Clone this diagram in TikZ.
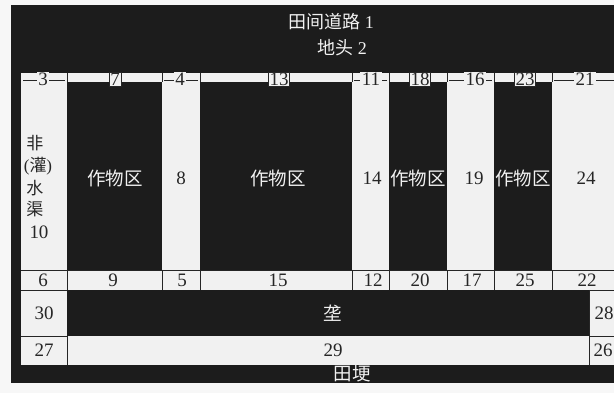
\documentclass[tikz,border=0pt]{standalone}
\usepackage{fontspec}
\setmainfont{Liberation Serif}
\newfontfamily\cjk{Noto Sans CJK SC}
\definecolor{dk}{HTML}{1C1C1C}
\definecolor{lt}{HTML}{F1F1F1}
\definecolor{pg}{HTML}{F7F7F7}
\definecolor{ink}{HTML}{262626}
\tikzset{
  num/.style={font=\fontsize{19}{19}\selectfont, text=ink, inner sep=0pt},
  wtxt/.style={font=\fontsize{18}{18}\selectfont, text=lt, inner sep=0pt},
  cnbig/.style={wtxt, font=\fontsize{18.5}{18.5}\selectfont},
  vtxt/.style={font=\fontsize{17}{17}\selectfont, text=ink, inner sep=0pt},
  boxlab/.style={num, draw=ink, line width=0.6pt, fill=lt, inner xsep=1.2pt, inner ysep=0.6pt},
  openlab/.style={num, fill=lt, inner xsep=1.5pt, inner ysep=0.3pt},
  rule/.style={draw=ink, line width=0.6pt},
}
\begin{document}
\begin{tikzpicture}[x=1pt,y=-1pt]
\fill[pg] (0,0) rectangle (614,393);
\useasboundingbox (0,0) rectangle (614,393);
% dark field
\fill[dk] (11,5) rectangle (614,383);
% light areas
\fill[lt] (21,73) rectangle (614,82);
\fill[lt] (21,82) rectangle (67,270);
\fill[lt] (162,82) rectangle (200,270);
\fill[lt] (352,82) rectangle (389,270);
\fill[lt] (447,82) rectangle (494,270);
\fill[lt] (552,82) rectangle (614,270);
\fill[lt] (21,270) rectangle (614,290);
\fill[lt] (21,290) rectangle (67,365);
\fill[lt] (67,336) rectangle (589,365);
\fill[lt] (589,290) rectangle (614,365);
% dividers
\foreach \x in {67,162,200,352,389,447,494,552}{
  \draw[rule] (\x,73) -- (\x,82);
  \draw[rule] (\x,270) -- (\x,290);
}
\draw[rule] (21,270) -- (614,270);
\draw[rule] (21,290) -- (67,290);
\draw[rule] (589,290) -- (614,290);
\draw[rule] (21,336) -- (67,336);
\draw[rule] (589,336) -- (614,336);
\draw[rule] (67,336) -- (67,365);
\draw[rule] (589,290) -- (589,365);
% lines in top strip over light columns
\draw[rule] (23,80) -- (65,80);
\draw[rule] (164,80) -- (198,80);
\draw[rule] (354,80) -- (387,80);
\draw[rule] (449,80) -- (492,80);
\draw[rule] (554,80) -- (614,80);
% top texts
\node[wtxt] (road) at (331,22) {{\cjk 田间道路} 1};
\node[wtxt] (head) at (342,48) {{\cjk 地头} 2};
% top strip labels
\node[openlab] (n3) at (43,79) {3};
\node[boxlab] (n7) at (115,79) {7};
\node[openlab] (n4) at (180,79) {4};
\node[boxlab] (n13) at (279,79) {13};
\node[openlab] (n11) at (371,79) {11};
\node[boxlab] (n18) at (420,79) {18};
\node[openlab] (n16) at (475,79) {16};
\node[boxlab] (n23) at (525,79) {23};
\node[openlab] (n21) at (585,79) {21};
% left canal column
\node[vtxt] (v1) at (35,143) {\cjk 非};
\node[vtxt] (v2) at (38,166) {({\cjk 灌})};
\node[vtxt] (v3) at (35,188) {\cjk 水};
\node[vtxt] (v4) at (35,209) {\cjk 渠};
\node[num] (v5) at (39,232) {10};
% middle row
\node[cnbig] (c1) at (115,178) {\cjk 作物区};
\node[num] (n8) at (181,178) {8};
\node[cnbig] (c2) at (278,178) {\cjk 作物区};
\node[num] (n14) at (372,178) {14};
\node[cnbig] (c3) at (418,178) {\cjk 作物区};
\node[num] (n19) at (474,178) {19};
\node[cnbig] (c4) at (523,178) {\cjk 作物区};
\node[num] (n24) at (586,178) {24};
% bottom label row
\node[num] (n6) at (43,280) {6};
\node[num] (n9) at (113,280) {9};
\node[num] (n5) at (182,280) {5};
\node[num] (n15) at (278,280) {15};
\node[num] (n12) at (373,280) {12};
\node[num] (n20) at (420,280) {20};
\node[num] (n17) at (472,280) {17};
\node[num] (n25) at (525,280) {25};
\node[num] (n22) at (587,280) {22};
% lower rows
\node[num] (n30) at (44,313) {30};
\node[cnbig] (ridge) at (333,313) {\cjk 垄};
\node[num] (n28) at (604,313) {28};
\node[num] (n27) at (44,350) {27};
\node[num] (n29) at (333,350) {29};
\node[num] (n26) at (603,350) {26};
\node[cnbig] (bank) at (352,374) {\cjk 田埂};
\end{tikzpicture}
\end{document}
